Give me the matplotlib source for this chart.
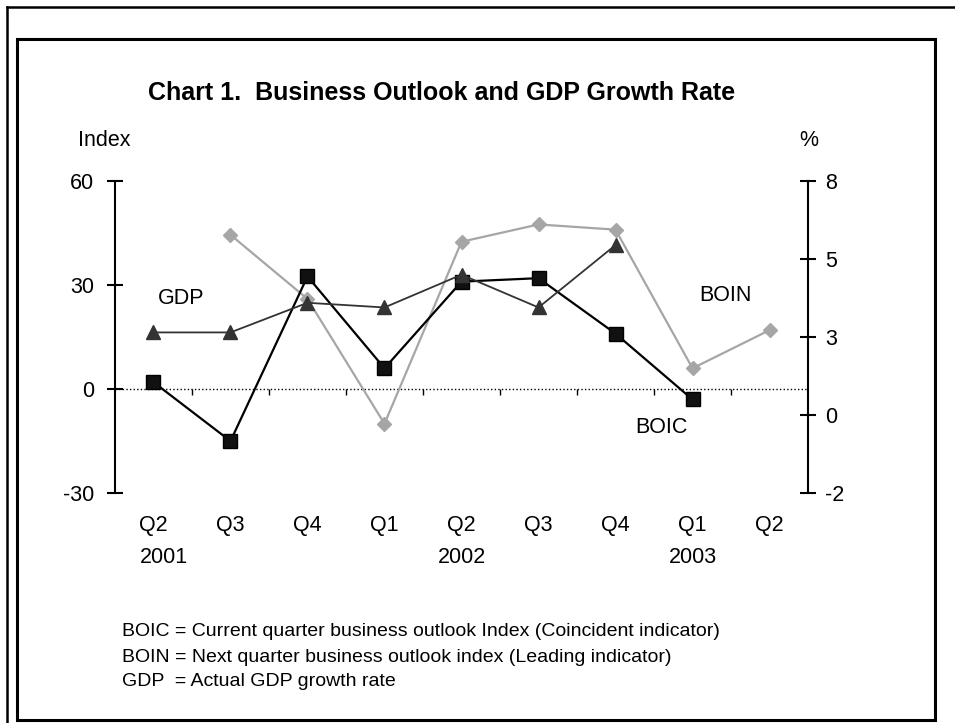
import numpy as np
import matplotlib.pyplot as plt
from matplotlib.patches import Rectangle
from matplotlib.lines import Line2D
from matplotlib.ticker import FormatStrFormatter

plt.rcParams['font.family'] = ['Liberation Sans', 'DejaVu Sans']
plt.rcParams['axes.unicode_minus'] = False

# quarters Q2 2001 .. Q2 2003
quarters = ["Q2", "Q3", "Q4", "Q1", "Q2", "Q3", "Q4", "Q1", "Q2"]
year_pos = [0, 4, 7]
year_labels = ["2001", "2002", "2003"]

# index values (left axis)
boic = [2, -15, 32.5, 6, 31, 32, 16, -3, np.nan]
boin = [np.nan, 44.5, 26, -10, 42.5, 47.5, 46, 6, 17]
# GDP growth, % (right axis)
gdp = [2.9, 2.9, 3.85, 3.7, 4.75, 3.7, 5.7, np.nan, np.nan]

x = np.arange(len(quarters))
fs = 15.5

fig = plt.figure(figsize=(9.55, 7.23), dpi=100)
ax = fig.add_axes([0.1204, 0.318, 0.7257, 0.4315])
ax2 = ax.twinx()

ax.plot(x, boin, color='#a6a6a6', lw=1.6, marker='D', ms=7, mfc='#a6a6a6', mec='#a6a6a6', zorder=2)
ax.plot(x, boic, color='black', lw=1.6, marker='s', ms=10, mfc='#111111', mec='black', zorder=3)
ax2.plot(x, gdp, color='#333333', lw=1.3, marker='^', ms=10.5, mfc='#333333', mec='#333333')

# dotted zero line with little category ticks
ax.axhline(0, color='black', lw=1, linestyle=(0, (1, 1.6)), zorder=1)
ax.plot(np.arange(0.5, len(quarters) - 1), np.zeros(len(quarters) - 1), ls='none',
        marker=3, ms=4, mew=1, color='black', zorder=1)

ax.set_xlim(-0.5, len(quarters) - 0.5)
ax.set_ylim(-30, 60)
ax.set_yticks([-30, 0, 30, 60])
ax2.set_ylim(-2.25, 7.75)
ax2.set_yticks(np.arange(-2.25, 8, 2.5))
ax2.yaxis.set_major_formatter(FormatStrFormatter('%.0f'))

ax.set_xticks(x)
ax.set_xticklabels(quarters)
ax.tick_params(axis='x', length=0, labelsize=fs, pad=16)
ax.tick_params(axis='y', direction='inout', length=11.5, width=1.5, labelsize=fs, pad=9)
ax2.tick_params(axis='y', direction='inout', length=11.5, width=1.5, labelsize=fs, pad=6.5)

for a in (ax, ax2):
    for s in ('top', 'bottom'):
        a.spines[s].set_visible(False)
ax.spines['right'].set_visible(False)
ax2.spines['left'].set_visible(False)
ax.spines['left'].set_linewidth(1.5)
ax2.spines['right'].set_linewidth(1.5)

for p, lab in zip(year_pos, year_labels):
    ax.text(p + (0.14 if p == 0 else 0), -0.205, lab, transform=ax.get_xaxis_transform(),
            ha='center', va='center', fontsize=fs)

ax.text(0.36, 26, "GDP", ha='center', va='center', fontsize=fs)
ax.text(7.43, 27, "BOIN", ha='center', va='center', fontsize=fs)
ax.text(6.6, -11, "BOIC", ha='center', va='center', fontsize=fs)

fig.text(0.462, 0.871, "Chart 1.  Business Outlook and GDP Growth Rate", ha='center', va='center',
         fontsize=18, fontweight='bold')
fig.text(0.109, 0.806, "Index", ha='center', va='center', fontsize=fs)
fig.text(0.847, 0.806, "%", ha='center', va='center', fontsize=fs)

notes = ["BOIC = Current quarter business outlook Index (Coincident indicator)",
         "BOIN = Next quarter business outlook index (Leading indicator)",
         "GDP  = Actual GDP growth rate"]
for i, n in enumerate(notes):
    fig.text(0.1275, 1 - (632 + 25 * i) / 723, n, ha='left', va='center', fontsize=14)

# frames around the chart
fig.add_artist(Line2D([7 / 955, 1.0], [1 - 7 / 723] * 2, color='black', lw=1.8))
fig.add_artist(Line2D([7 / 955] * 2, [0.0, 1 - 7 / 723], color='black', lw=1.8))
fig.add_artist(Rectangle((17 / 955, 3 / 723), (935 - 17) / 955, (720 - 39) / 723, fill=False,
                         lw=2.2, edgecolor='black'))

fig.savefig("out.png", dpi=100)
